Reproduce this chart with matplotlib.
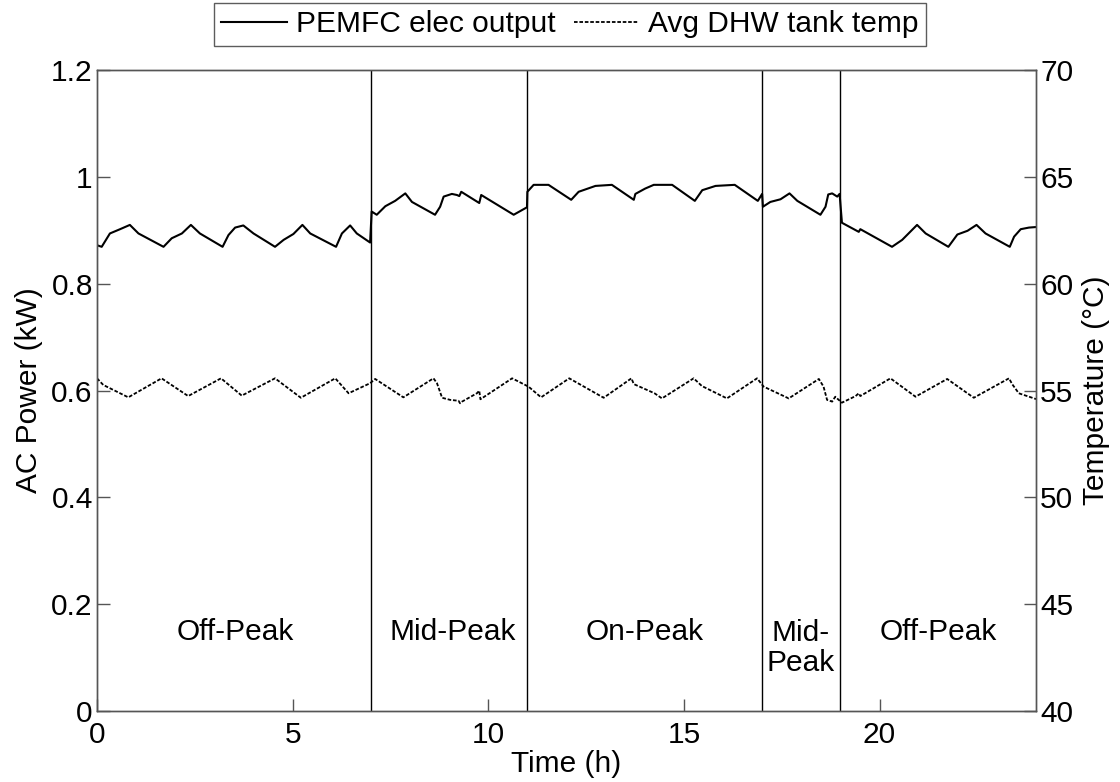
import matplotlib
matplotlib.use("Agg")
import matplotlib.pyplot as plt

plt.rcParams['font.family'] = ['Liberation Sans', 'DejaVu Sans']

# PEMFC AC electric output (kW) over the day
power_t = [0.0, 0.12, 0.33, 0.59, 0.84, 1.06, 1.70, 1.91, 2.17, 2.40, 2.63, 3.21,
           3.36, 3.53, 3.74, 4.00, 4.55, 4.77, 5.02, 5.25, 5.45, 6.11, 6.26, 6.47,
           6.64, 6.98, 7.02, 7.15, 7.37, 7.62, 7.88, 8.05, 8.64, 8.77, 8.86, 9.07,
           9.20, 9.26, 9.31, 9.77, 9.82, 10.65, 10.99, 11.00, 11.16, 11.54, 12.12,
           12.31, 12.74, 13.16, 13.72, 13.76, 14.01, 14.23, 14.70, 15.28, 15.47,
           15.81, 16.30, 16.89, 17.00, 17.02, 17.21, 17.47, 17.70, 17.90, 18.49,
           18.62, 18.69, 18.79, 18.92, 18.98, 19.04, 19.47, 19.51, 20.32, 20.58,
           20.96, 21.18, 21.76, 21.99, 22.25, 22.48, 22.71, 23.33, 23.44, 23.61,
           23.82, 24.0]
power_kw = [0.872, 0.869, 0.894, 0.902, 0.910, 0.894, 0.869, 0.885, 0.894, 0.910,
            0.894, 0.869, 0.891, 0.905, 0.909, 0.894, 0.869, 0.882, 0.893, 0.910,
            0.894, 0.869, 0.894, 0.909, 0.894, 0.877, 0.935, 0.929, 0.945, 0.955,
            0.969, 0.953, 0.929, 0.944, 0.963, 0.968, 0.966, 0.964, 0.972, 0.951,
            0.966, 0.929, 0.943, 0.972, 0.985, 0.985, 0.957, 0.972, 0.983, 0.985,
            0.957, 0.968, 0.978, 0.985, 0.985, 0.955, 0.975, 0.983, 0.985, 0.955,
            0.968, 0.944, 0.953, 0.958, 0.969, 0.955, 0.929, 0.944, 0.967, 0.969,
            0.963, 0.968, 0.914, 0.897, 0.902, 0.869, 0.882, 0.910, 0.894, 0.869,
            0.892, 0.899, 0.910, 0.894, 0.869, 0.888, 0.902, 0.905, 0.906]

# Average domestic hot water tank temperature (°C)
temp_t = [0.0, 0.16, 0.80, 1.65, 2.33, 3.17, 3.70, 4.55, 5.21, 6.09, 6.43, 6.98,
          7.11, 7.83, 8.60, 8.69, 8.82, 9.03, 9.24, 9.28, 9.33, 9.71, 9.77, 9.80,
          10.61, 11.03, 11.35, 12.07, 12.95, 13.66, 13.72, 14.25, 14.44, 15.25,
          15.46, 16.10, 16.87, 17.04, 17.68, 18.45, 18.57, 18.66, 18.79, 18.87,
          18.94, 19.04, 19.39, 19.47, 19.51, 20.28, 20.92, 21.73, 22.41, 23.31,
          23.39, 23.56, 24.0]
temp_c = [55.57, 55.26, 54.68, 55.57, 54.74, 55.57, 54.76, 55.57, 54.66, 55.57,
          54.87, 55.34, 55.54, 54.68, 55.57, 55.34, 54.66, 54.56, 54.52, 54.40,
          54.48, 54.87, 54.99, 54.59, 55.57, 55.18, 54.68, 55.57, 54.66, 55.57,
          55.30, 54.87, 54.63, 55.57, 55.21, 54.63, 55.57, 55.18, 54.63, 55.54,
          55.18, 54.56, 54.48, 54.71, 54.59, 54.43, 54.74, 54.87, 54.74, 55.57,
          54.71, 55.54, 54.66, 55.57, 55.30, 54.87, 54.60]

# Tariff period boundaries (h) and labels
period_bounds = [7, 11, 17, 19]
period_labels = ["Off-Peak", "Mid-Peak", "On-Peak", "Mid-\nPeak", "Off-Peak"]
label_t = [3.53, 9.08, 14.0, 17.98, 21.5]
label_kw = [0.148, 0.148, 0.148, 0.118, 0.148]

FS = 21.5
spine_col = "#555555"

fig = plt.figure(figsize=(11.2, 7.82), dpi=100)
ax = fig.add_axes([97 / 1120, 1 - 711 / 782, (1036 - 97) / 1120, (711 - 70) / 782])
ax2 = ax.twinx()

l1, = ax.plot(power_t, power_kw, color="black", lw=1.5, label="PEMFC elec output")
l2, = ax2.plot(temp_t, temp_c, color="black", lw=1.3, linestyle=(0, (2, 1)),
               label="Avg DHW tank temp")

for b in period_bounds:
    ax.axvline(b, color="black", lw=1.0)

for s, x, y in zip(period_labels, label_t, label_kw):
    ax.text(x, y, s, ha="center", va="center", fontsize=FS, linespacing=1.05)

ax.set_xlim(0, 24)
ax.set_ylim(0, 1.2)
ax2.set_ylim(40, 70)
ax.set_xticks([0, 5, 10, 15, 20])
ax.set_yticks([0, 0.2, 0.4, 0.6, 0.8, 1.0, 1.2])
ax.set_yticklabels(["0", "0.2", "0.4", "0.6", "0.8", "1", "1.2"])
ax2.set_yticks([40, 45, 50, 55, 60, 65, 70])

ax.set_xlabel("Time (h)", fontsize=FS, labelpad=1)
ax.set_ylabel("AC Power (kW)", fontsize=FS, labelpad=6)
ax2.set_ylabel("Temperature (°C)", fontsize=FS, labelpad=6)

for a in (ax, ax2):
    a.tick_params(direction="in", length=9, width=1, colors=spine_col,
                  labelcolor="black", labelsize=FS, pad=3)
    for sp in a.spines.values():
        sp.set_color(spine_col)
        sp.set_linewidth(1.0)
ax.tick_params(axis="x", pad=7)

leg = fig.legend(handles=[l1, l2], loc="upper center",
                 bbox_to_anchor=(570 / 1120, 1 - 3 / 782), ncol=2, fontsize=FS,
                 frameon=True, fancybox=False, handlelength=2.2,
                 handletextpad=0.3, columnspacing=0.6, borderpad=0.25,
                 borderaxespad=0)
leg.get_frame().set_edgecolor("#333333")
leg.get_frame().set_linewidth(1.0)

fig.savefig("out.png", dpi=100)
